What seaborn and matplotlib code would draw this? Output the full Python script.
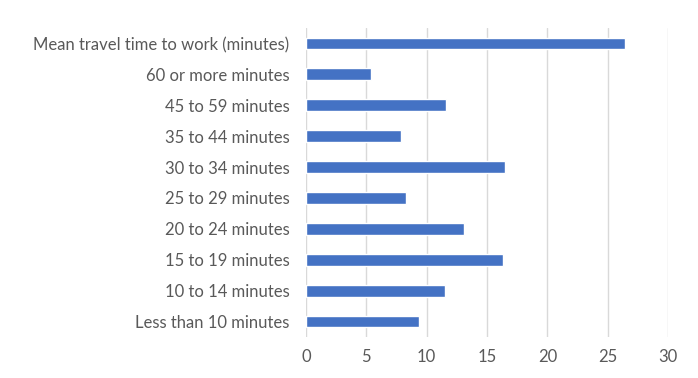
import matplotlib
matplotlib.use("Agg")
import matplotlib.pyplot as plt
import seaborn as sns
import pandas as pd

categories = [
    "Mean travel time to work (minutes)",
    "60 or more minutes",
    "45 to 59 minutes",
    "35 to 44 minutes",
    "30 to 34 minutes",
    "25 to 29 minutes",
    "20 to 24 minutes",
    "15 to 19 minutes",
    "10 to 14 minutes",
    "Less than 10 minutes",
]
values = [26.4, 5.4, 11.6, 7.9, 16.5, 8.3, 13.1, 16.3, 11.5, 9.4]
xticks = [0, 5, 10, 15, 20, 25, 30]

sns.set_theme(style="white")
plt.rcParams["font.family"] = ["Lato", "DejaVu Sans"]

df = pd.DataFrame({"category": categories, "value": values})

fig = plt.figure(figsize=(6.98, 3.78), dpi=100)
ax = fig.add_axes([306/698, 1-337/378, (668-306)/698, (337-28)/378])
sns.barplot(data=df, x="value", y="category", order=categories, color="#4472C4",
            width=0.38, saturation=1, ax=ax)
ax.set_xlim(0, 30)
ax.set_ylim(9.5, -0.5)
ax.set_xticks(xticks)
ax.set_xticklabels([str(t) for t in xticks])
ax.xaxis.grid(True, color="#D9D9D9", linewidth=1)
ax.set_axisbelow(True)
for s in ax.spines.values():
    s.set_visible(False)
ax.set_xlabel("")
ax.set_ylabel("")
ax.tick_params(axis="both", length=0, labelsize=12, labelcolor="#595959")
ax.tick_params(axis="y", pad=12)
ax.tick_params(axis="x", pad=9)
fig.savefig("out.png", dpi=100, facecolor="white")
